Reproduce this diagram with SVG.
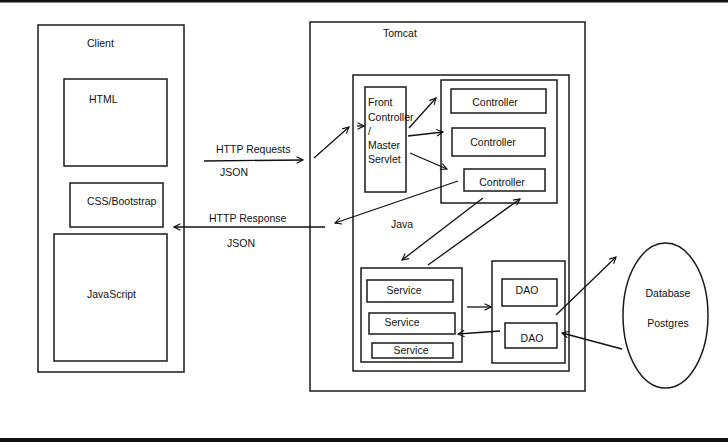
<svg xmlns="http://www.w3.org/2000/svg" width="728" height="442" viewBox="0 0 728 442">
<style>
.box{fill:#fff;stroke:#1a1a1a;stroke-width:1.5}
.t{font-family:"Liberation Sans",Arial,sans-serif;font-size:10.5px;fill:#111}
.m{text-anchor:middle}
.c{fill:none;stroke:#111;stroke-width:1.3}
</style>
<defs>
<marker id="ah" viewBox="0 0 10 10" refX="9" refY="5" markerWidth="8" markerHeight="8" markerUnits="userSpaceOnUse" orient="auto">
<path d="M1,1 L9,5 L1,9" fill="none" stroke="#111" stroke-width="1.4"/>
</marker>
</defs>
<rect x="0" y="0" width="728" height="442" fill="#fff"/>
<rect x="0" y="0" width="728" height="2.5" fill="#111"/>
<rect x="0" y="438" width="728" height="4" fill="#111"/>

<g id="client">
<rect class="box" x="38" y="25" width="146" height="347"/>
<text class="t" x="87" y="47">Client</text>
</g>
<g id="html">
<rect class="box" x="64" y="79" width="103" height="87"/>
<text class="t" x="89" y="103">HTML</text>
</g>
<g id="css">
<rect class="box" x="70" y="183" width="93" height="44"/>
<text class="t" x="87" y="205">CSS/Bootstrap</text>
</g>
<g id="javascript">
<rect class="box" x="54" y="234" width="113" height="127"/>
<text class="t" x="87" y="298">JavaScript</text>
</g>

<g id="tomcat">
<rect class="box" x="310" y="22" width="275" height="369"/>
<text class="t" x="383" y="37">Tomcat</text>
</g>
<g id="java">
<rect class="box" x="353" y="75" width="216" height="296"/>
<text class="t" x="391" y="228">Java</text>
</g>
<g id="front-controller">
<rect class="box" x="365" y="87" width="41" height="105"/>
<text class="t" x="368" y="106">Front</text>
<text class="t" x="368" y="121">Controller</text>
<text class="t" x="368" y="135">/</text>
<text class="t" x="368" y="149">Master</text>
<text class="t" x="368" y="163">Servlet</text>
</g>
<g id="controllers">
<rect class="box" x="441" y="80" width="116" height="123"/>
</g>
<g id="controller1">
<rect class="box" x="451" y="89" width="95" height="24"/>
<text class="t m" x="495" y="106">Controller</text>
</g>
<g id="controller2">
<rect class="box" x="452" y="128" width="93" height="28"/>
<text class="t m" x="493" y="146">Controller</text>
</g>
<g id="controller3">
<rect class="box" x="464" y="169" width="81" height="22"/>
<text class="t m" x="502" y="186">Controller</text>
</g>
<g id="services">
<rect class="box" x="361" y="268" width="101" height="94"/>
</g>
<g id="service1">
<rect class="box" x="367" y="280" width="86" height="22"/>
<text class="t m" x="404" y="294">Service</text>
</g>
<g id="service2">
<rect class="box" x="369" y="313" width="86" height="21"/>
<text class="t m" x="402" y="326">Service</text>
</g>
<g id="service3">
<rect class="box" x="372" y="343" width="81" height="15"/>
<text class="t m" x="411" y="354">Service</text>
</g>
<g id="daos">
<rect class="box" x="492" y="261" width="73" height="102"/>
</g>
<g id="dao1">
<rect class="box" x="502" y="279" width="55" height="27"/>
<text class="t m" x="527" y="294">DAO</text>
</g>
<g id="dao2">
<rect class="box" x="505" y="323" width="52" height="25"/>
<text class="t m" x="532" y="342">DAO</text>
</g>
<g id="database">
<ellipse class="box" cx="665.5" cy="315.5" rx="42.5" ry="72.5"/>
<text class="t m" x="668" y="297">Database</text>
<text class="t m" x="668" y="327">Postgres</text>
</g>

<g id="connectors">
<line class="c" x1="204" y1="161" x2="303" y2="160" marker-end="url(#ah)"/>
<text class="t" x="216" y="153">HTTP Requests</text>
<text class="t" x="220" y="176">JSON</text>
<line class="c" x1="325" y1="227" x2="174" y2="227" marker-end="url(#ah)"/>
<text class="t" x="209" y="222">HTTP Response</text>
<text class="t" x="227" y="247">JSON</text>
<line class="c" x1="314" y1="158" x2="349" y2="127" marker-end="url(#ah)"/>
<line class="c" x1="357" y1="126" x2="364" y2="126" marker-end="url(#ah)"/>
<line class="c" x1="409" y1="128" x2="436" y2="98" marker-end="url(#ah)"/>
<line class="c" x1="408" y1="136" x2="443" y2="132" marker-end="url(#ah)"/>
<line class="c" x1="410" y1="153" x2="447" y2="169" marker-end="url(#ah)"/>
<line class="c" x1="458" y1="181" x2="335" y2="223" marker-end="url(#ah)"/>
<line class="c" x1="483" y1="198" x2="402" y2="260" marker-end="url(#ah)"/>
<line class="c" x1="428" y1="265" x2="520" y2="199" marker-end="url(#ah)"/>
<line class="c" x1="467" y1="307" x2="491" y2="307" marker-end="url(#ah)"/>
<line class="c" x1="500" y1="331" x2="458" y2="334" marker-end="url(#ah)"/>
<line class="c" x1="556" y1="315" x2="616" y2="257" marker-end="url(#ah)"/>
<line class="c" x1="622" y1="349" x2="562" y2="333" marker-end="url(#ah)"/>
</g>
</svg>
